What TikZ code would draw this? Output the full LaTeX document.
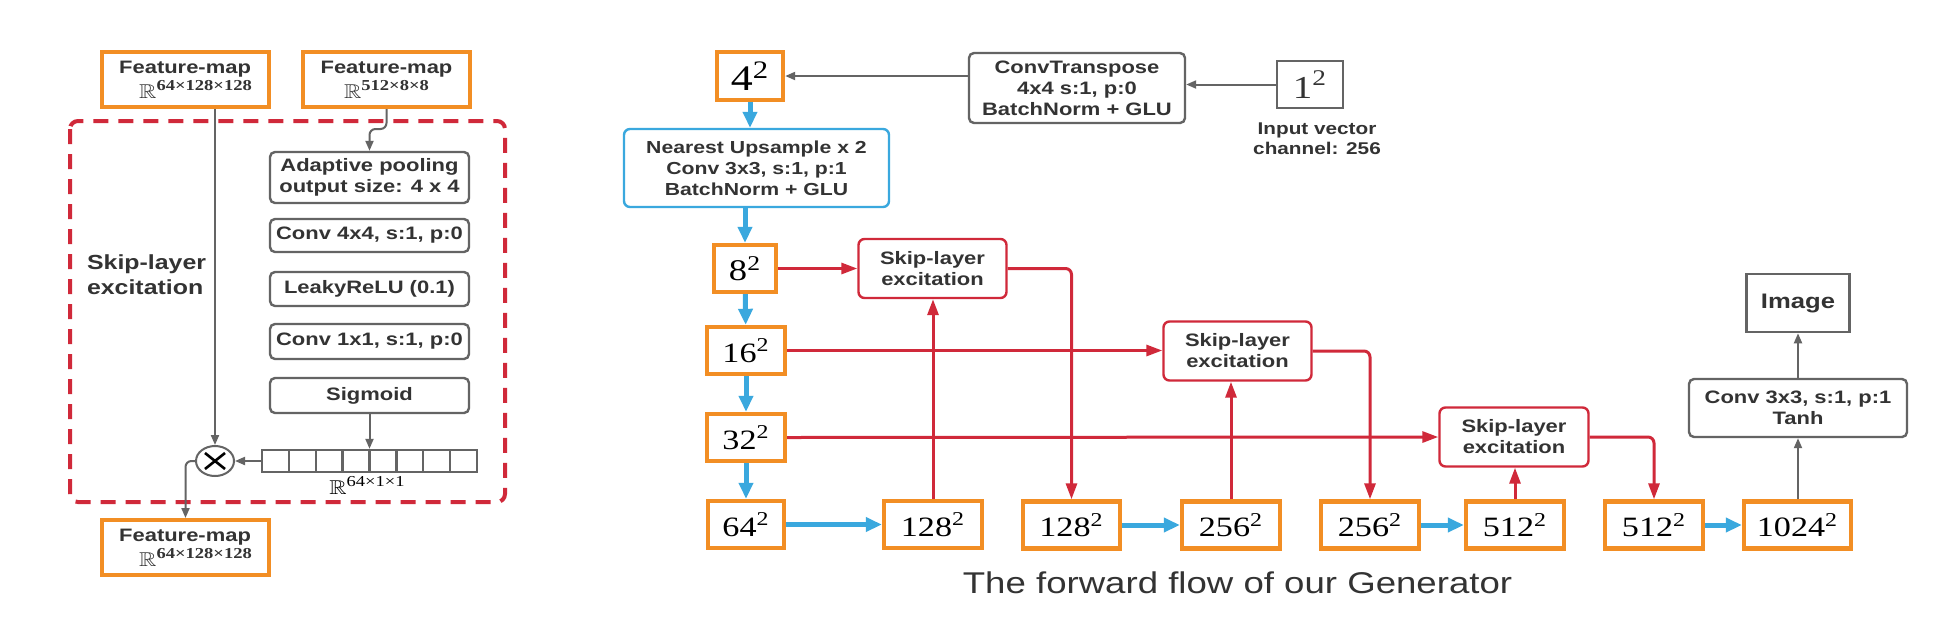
\documentclass[tikz,border=0pt]{standalone}
\usepackage{amssymb}
\usepackage{fontspec}
\setmainfont{Liberation Sans}[FakeStretch=1.22]
\newfontfamily\numfont{Liberation Serif}[FakeStretch=1.22]
\usetikzlibrary{shapes.geometric,arrows.meta}

\definecolor{fmorange}{RGB}{242,142,36}
\definecolor{slered}{RGB}{208,41,58}
\definecolor{upblue}{RGB}{58,168,222}
\definecolor{linegray}{RGB}{100,100,100}
\definecolor{txtgray}{RGB}{51,51,51}

\newcommand{\res}[2]{{\numfont\fontsize{#2}{#2}\selectfont #1\textsuperscript{2}}}
\newcommand{\fdim}[1]{\scalebox{1.2}[1]{\fontsize{10}{10}\selectfont$\mathbb{R}$}\raisebox{4pt}{\numfont\fontsize{7.6}{8}\selectfont #1}}

\tikzset{
  fmap/.style={
    rectangle,
    minimum width=83.5pt,
    minimum height=27.5pt,
    inner sep=0pt,
    draw=fmorange,
    line width=2pt,
    text=txtgray,
    font=\bfseries\fontsize{9}{12.5}\selectfont
    },
  resbox/.style={
    rectangle,
    minimum height=23.5pt,
    inner sep=0pt,
    draw=fmorange,
    line width=2.2pt,
    text=black
    },
  layer/.style={
    rectangle,
    rounded corners=2.5pt,
    minimum width=99.5pt,
    inner sep=0pt,
    align=center,
    draw=linegray,
    line width=1.2pt,
    text=txtgray,
    font=\bfseries\fontsize{9}{10.5}\selectfont
    },
  sle/.style={
    rectangle,
    rounded corners=3pt,
    minimum width=74pt,
    minimum height=29.5pt,
    inner sep=0pt,
    align=center,
    draw=slered,
    line width=1.2pt,
    text=txtgray,
    font=\bfseries\fontsize{9}{10.5}\selectfont
    },
  upbox/.style={
    rectangle,
    rounded corners=3pt,
    inner sep=0pt,
    align=center,
    draw=upblue,
    line width=1.2pt,
    text=txtgray,
    font=\bfseries\fontsize{8.7}{10.5}\selectfont
    },
  plainbox/.style={
    rectangle,
    inner sep=0pt,
    draw=linegray,
    line width=1.3pt,
    text=txtgray
    },
  mulop/.style={
    ellipse,
    minimum width=19pt,
    minimum height=15pt,
    inner sep=0pt,
    draw=linegray,
    line width=1pt,
    path picture={
      \draw[black, line width=1.3pt]
        ([shift={(-5pt,-4pt)}]path picture bounding box.center) -- ([shift={(5pt,4pt)}]path picture bounding box.center)
        ([shift={(-5pt,4pt)}]path picture bounding box.center) -- ([shift={(5pt,-4pt)}]path picture bounding box.center);
      }
    },
  garrow/.style={draw=linegray, line width=1pt, -{Triangle[length=5pt,width=4pt]}},
  rarrow/.style={draw=slered, line width=1.5pt, -{Triangle[length=8pt,width=5.5pt]}},
  barrow/.style={draw=upblue, line width=2.5pt, -{Triangle[length=8pt,width=7pt]}},
}

\begin{document}
\begin{tikzpicture}[x=0.5pt, y=-0.5pt]
\path[use as bounding box, fill=white] (0,0) rectangle (1955,628);

\draw[slered, line width=2pt, dash pattern=on 7.5pt off 5pt, rounded corners=4pt] (70,121) rectangle (505,502);
\node (slelabel) [anchor=west, align=left, text=txtgray, font=\bfseries\fontsize{10.2}{12.5}\selectfont] at (80,275) {Skip-layer\\excitation};

\node (fm1) [fmap, align=left] at (185.5,79.5) {Feature-map\\\hspace*{10pt}\fdim{64×128×128}};
\node (fm2) [fmap, align=center] at (386.5,79.5) {Feature-map\\\fdim{512×8×8}};
\node (fm3) [fmap, align=left] at (185.5,547.5) {Feature-map\\\hspace*{10pt}\fdim{64×128×128}};
\node (pool) [layer, minimum height=25.5pt] at (369.5,177.5) {Adaptive pooling\\output size: 4 x 4};
\node (conv4) [layer, minimum height=16.5pt] at (369.5,235.5) {Conv 4x4, s:1, p:0};
\node (lrelu) [layer, minimum height=17pt] at (369.5,289) {LeakyReLU (0.1)};
\node (conv1) [layer, minimum height=17.5pt] at (369.5,341.5) {Conv 1x1, s:1, p:0};
\node (sigm) [layer, minimum height=17.5pt] at (369.5,395.5) {Sigmoid};
\node (vec) [rectangle, draw=linegray, line width=1.2pt, minimum width=107.5pt, minimum height=11pt, inner sep=0pt] at (369.5,461) {};
\foreach \i in {1,...,7}
  \draw[linegray, line width=1.2pt] (262+\i*26.875,450) -- (262+\i*26.875,472);
\node (vecdim) at (367,485) {\fdim{64×1×1}};
\node (mul) [mulop] at (215,461) {};

\draw[garrow] (mul.north |- fm1.south) -- (mul.north);
\draw[garrow, rounded corners=3pt] (fm2.south) -- ++(0,20) -| (pool.north);
\draw[garrow] (sigm.south) -- (vec.north);
\draw[garrow] (vec.west) -- (mul.east);
\draw[garrow, rounded corners=3pt] (mul.west) -| (fm3.north);

\node (r4) [resbox, minimum width=33pt, minimum height=24pt] at (750,76) {\res{4}{18}};
\node (ups) [upbox, minimum width=132.5pt, minimum height=39pt] at (756.5,168) {Nearest Upsample x 2\\Conv 3x3, s:1, p:1\\BatchNorm + GLU};
\node (convt) [layer, minimum width=108pt, minimum height=35pt] at (1077,88) {ConvTranspose\\4x4 s:1, p:0\\BatchNorm + GLU};
\node (r1) [plainbox, minimum width=33pt, minimum height=23.5pt] at (1310,84.5) {\res{1}{16}};
\node (invec) [align=center, text=txtgray, font=\bfseries\fontsize{8.5}{10}\selectfont] at (1317,139) {Input vector\\channel: 256};

\node (r8) [resbox, minimum width=31pt] at (745,268.5) {\res{8}{15}};
\node (r16) [resbox, minimum width=39pt] at (746,350.5) {\res{16}{14}};
\node (r32) [resbox, minimum width=39pt] at (746,437.5) {\res{32}{14}};
\node (r64) [resbox, minimum width=38pt] at (746,524.5) {\res{64}{14}};
\node (r128a) [resbox, minimum width=49pt] at (933,524.5) {\res{128}{14}};
\node (r128b) [resbox, minimum width=48.5pt] at (1071.5,525) {\res{128}{14}};
\node (r256a) [resbox, minimum width=49pt] at (1231,525) {\res{256}{14}};
\node (r256b) [resbox, minimum width=49pt] at (1370,525) {\res{256}{14}};
\node (r512a) [resbox, minimum width=49pt] at (1515,525) {\res{512}{14}};
\node (r512b) [resbox, minimum width=49pt] at (1654,525) {\res{512}{14}};
\node (r1024) [resbox, minimum width=53.5pt] at (1797.5,525) {\res{1024}{14}};

\node (sle1) [sle] at (932.5,268.5) {Skip-layer\\excitation};
\node (sle2) [sle] at (1237.5,351) {Skip-layer\\excitation};
\node (sle3) [sle, minimum width=74.5pt] at (1514,437) {Skip-layer\\excitation};

\node (conv3) [layer, minimum width=109pt, minimum height=29pt] at (1798,408) {Conv 3x3, s:1, p:1\\Tanh};
\node (image) [plainbox, minimum width=51.5pt, minimum height=29pt, font=\bfseries\fontsize{10.5}{12}\selectfont] at (1798,303) {Image};

\node (caption) [anchor=base, text=txtgray, font=\fontsize{15}{18}\selectfont] at (1237.5,593) {The forward flow of our Generator};

\draw[garrow] (r1.west) -- (r1.west -| convt.east);
\draw[garrow] (r4.east -| convt.west) -- (r4.east);
\draw[barrow] (r4.south) -- (r4.south |- ups.north);
\draw[barrow] (r8.north |- ups.south) -- (r8.north);
\draw[barrow] (r8) -- (r16);
\draw[barrow] (r16) -- (r32);
\draw[barrow] (r32) -- (r64);
\draw[barrow] (r64) -- (r128a);
\draw[barrow] (r128b) -- (r256a);
\draw[barrow] (r256b) -- (r512a);
\draw[barrow] (r512b) -- (r1024);

\draw[rarrow] (r8.east) -- (sle1.west);
\draw[rarrow] (r16.east) -- (r16.east -| sle2.west);
\draw[rarrow] (r32.east) -- (sle3.west);
\draw[rarrow] (r128a.north) -- (r128a.north |- sle1.south);
\draw[rarrow] (r256a.north) -- (r256a.north |- sle2.south);
\draw[rarrow] (r512a.north) -- (r512a.north |- sle3.south);
\draw[rarrow, rounded corners=3pt] (sle1.east) -| (r128b.north);
\draw[rarrow, rounded corners=3pt] (sle2.east) -| (r256b.north);
\draw[rarrow, rounded corners=3pt] (sle3.east) -| (r512b.north);

\draw[garrow] (conv3.south |- r1024.north) -- (conv3.south);
\draw[garrow] (conv3.north) -- (image.south);
\end{tikzpicture}
\end{document}
